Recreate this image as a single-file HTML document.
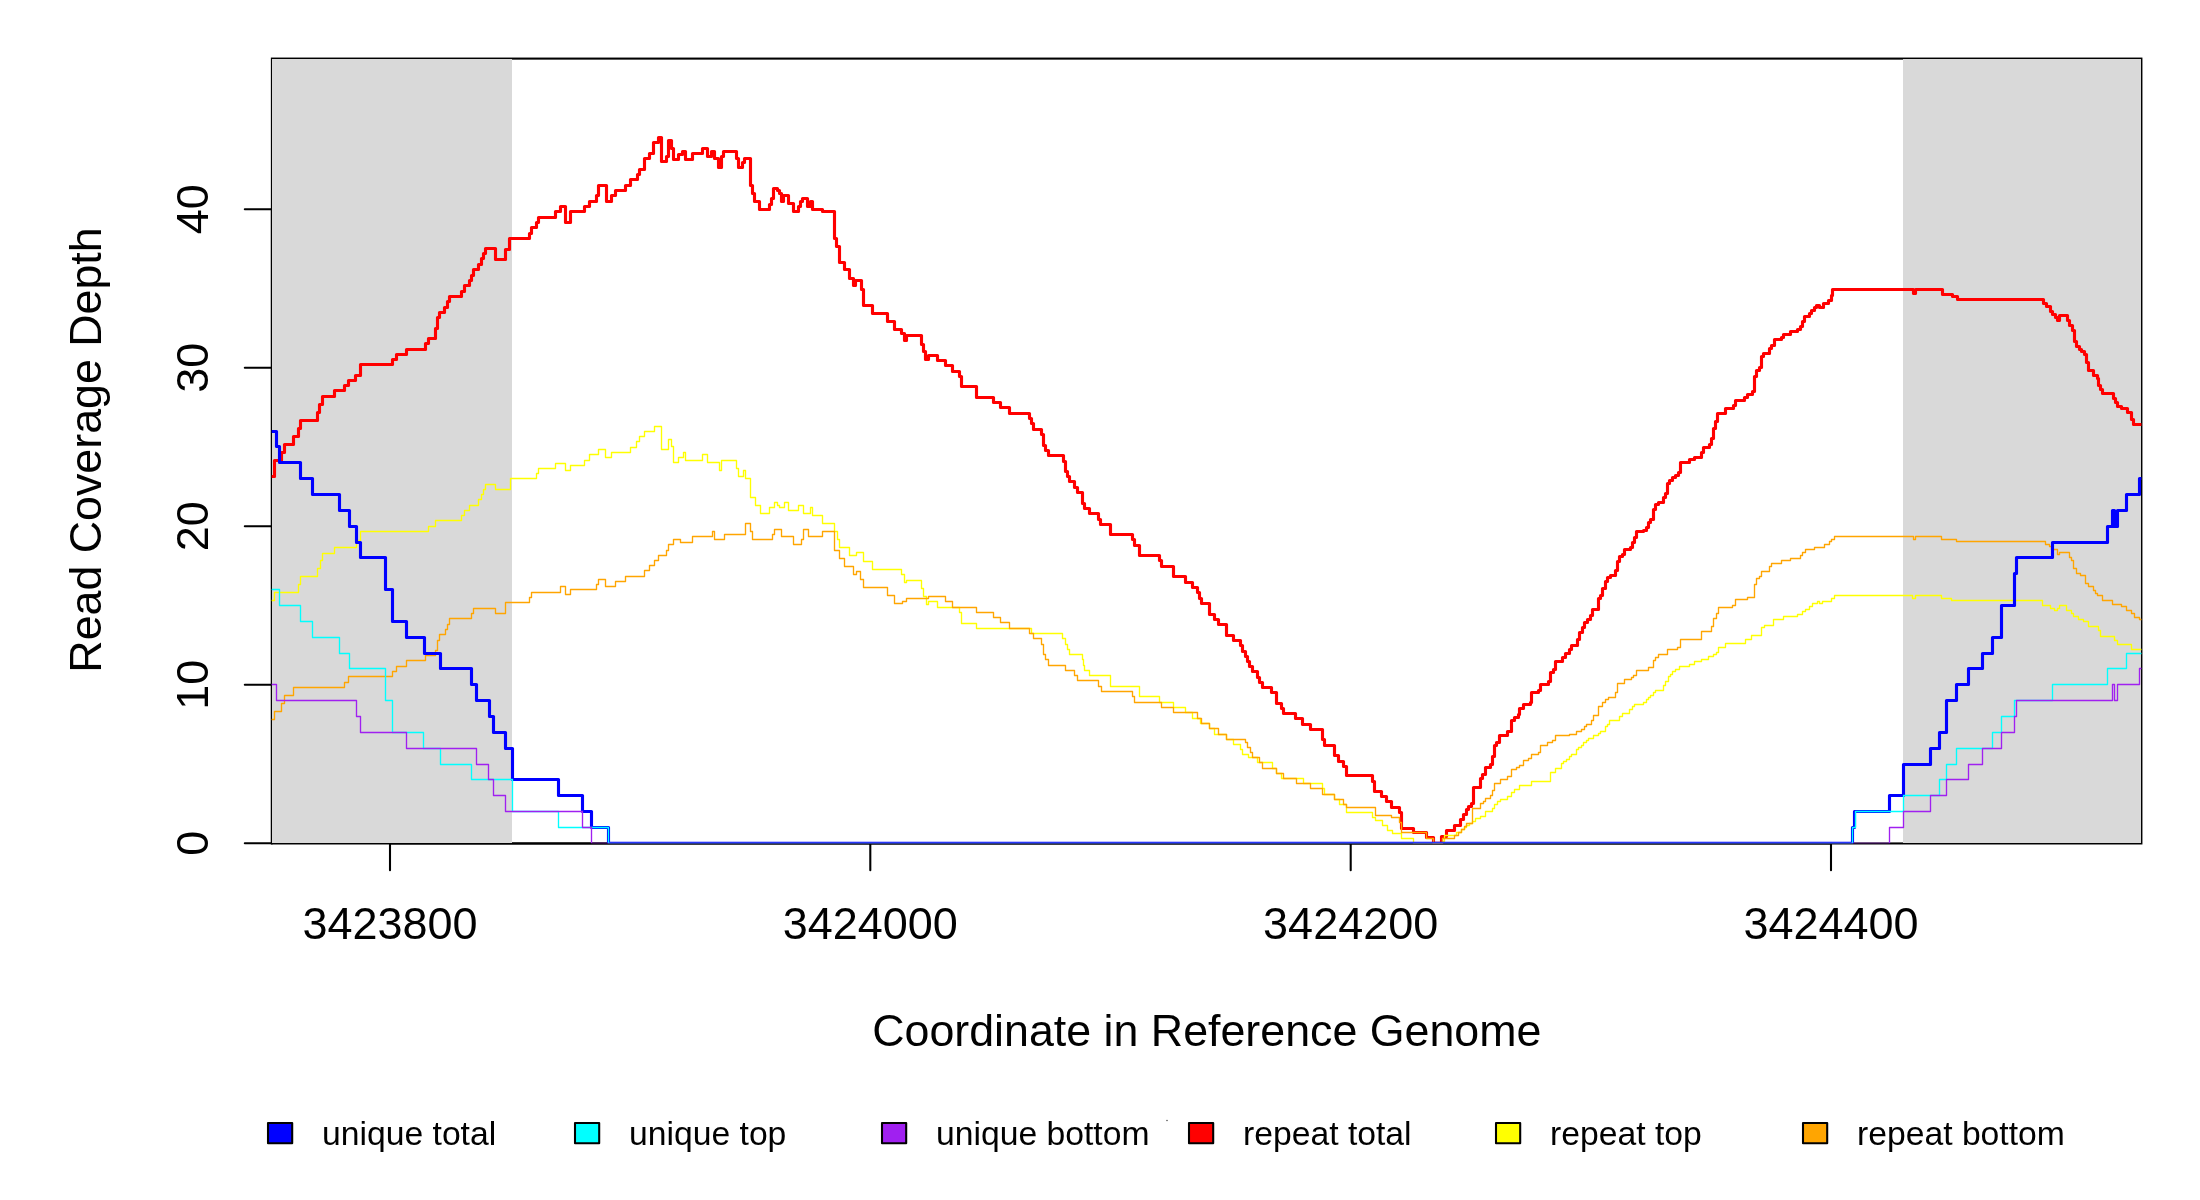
<!DOCTYPE html>
<html><head><meta charset="utf-8"><title>Read Coverage Depth</title>
<style>
html,body{margin:0;padding:0;background:#fff}
svg{display:block}
text{font-family:"Liberation Sans",sans-serif;fill:#000}
#t{opacity:.999}
.ax{font-size:45px}
.lg{font-size:33.7px}
.k{stroke:#000;stroke-width:2.08;fill:none;stroke-linecap:round}
</style></head><body>
<svg width="2200" height="1200" viewBox="0 0 2200 1200">
<rect width="2200" height="1200" fill="#fff"/>
<defs><clipPath id="c"><rect x="271.7" y="58.6" width="1869.7" height="784.7"/></clipPath></defs>

<rect class="k" x="271.9" y="58.6" width="1869.5" height="784.85"/>
<path class="k" d="M390 843.45H1831
M390 843.45V870.3
M870.3 843.45V870.3
M1350.7 843.45V870.3
M1831 843.45V870.3
"/>
<path class="k" d="M271.9 843.45V209.2
M271.9 843.3H244.8
M271.9 684.8H244.8
M271.9 526.2H244.8
M271.9 367.7H244.8
M271.9 209.2H244.8
"/>
<rect x="272" y="59" width="240" height="784" fill="#d9d9d9" shape-rendering="crispEdges"/>
<rect x="1903" y="59" width="238" height="784" fill="#d9d9d9" shape-rendering="crispEdges"/>
<g clip-path="url(#c)" fill="none" stroke-linejoin="round" stroke-linecap="round">
<path d="M271.5 476.5H274.5V460.5H281.5V452.5H284.5V444.5H293.5V436.5H298.5V428.5H300.5V420.5H317.5V412.5H319.5V404.5H322.5V396.5H334.5V390.5H344.5V385.5H348.5V380.5H355.5V375.5H360.5V364.5H392.5V359.5H396.5V354.5H406.5V349.5H425.5V343.5H428.5V338.5H435.5V328.5H437.5V317.5H439.5V312.5H444.5V307.5H447.5V301.5H449.5V296.5H461.5V291.5H464.5V285.5H469.5V280.5H471.5V275.5H473.5V269.5H478.5V264.5H481.5V258.5H483.5V253.5H485.5V248.5H495.5V259.5H505.5V249.5H509.5V238.5H529.5V233.5H531.5V227.5H536.5V222.5H538.5V217.5H555.5V211.5H560.5V206.5H565.5V222.5H570.5V211.5H584.5V206.5H589.5V201.5H596.5V195.5H598.5V185.5H606.5V201.5H611.5V195.5H615.5V190.5H625.5V185.5H630.5V179.5H637.5V174.5H639.5V169.5H644.5V158.5H649.5V153.5H653.5V142.5H658.5V137.5H661.5V161.5H666.5V156.5H668.5V140.5H671.5V148.5H673.5V159.5H678.5V154.5H682.5V151.5H685.5V159.5H692.5V153.5H702.5V148.5H707.5V156.5H711.5V151.5H714.5V158.5H718.5V167.5H721.5V156.5H723.5V151.5H736.5V158.5H738.5V167.5H742.5V162.5H744.5V158.5H750.5V185.5H752.5V193.5H754.5V201.5H759.5V209.5H769.5V204.5H771.5V198.5H773.5V188.5H777.5V190.5H779.5V193.5H781.5V201.5H783.5V195.5H788.5V203.5H793.5V211.5H798.5V206.5H800.5V201.5H802.5V198.5H807.5V206.5H810.5V201.5H812.5V209.5H822.5V211.5H834.5V238.5H836.5V246.5H839.5V262.5H844.5V269.5H849.5V278.5H853.5V285.5H855.5V280.5H861.5V289.5H863.5V305.5H872.5V313.5H887.5V321.5H894.5V329.5H901.5V333.5H904.5V340.5H906.5V335.5H921.5V344.5H923.5V351.5H925.5V359.5H928.5V355.5H937.5V360.5H945.5V365.5H952.5V371.5H959.5V376.5H961.5V386.5H976.5V397.5H993.5V402.5H1000.5V407.5H1009.5V413.5H1029.5V418.5H1031.5V423.5H1033.5V429.5H1041.5V434.5H1043.5V445.5H1045.5V450.5H1048.5V455.5H1063.5V461.5H1065.5V471.5H1067.5V476.5H1069.5V481.5H1074.5V487.5H1077.5V492.5H1082.5V503.5H1084.5V508.5H1089.5V513.5H1098.5V519.5H1100.5V524.5H1110.5V534.5H1132.5V539.5H1134.5V545.5H1139.5V555.5H1159.5V560.5H1161.5V566.5H1173.5V576.5H1185.5V582.5H1192.5V587.5H1197.5V592.5H1199.5V598.5H1201.5V603.5H1209.5V614.5H1214.5V619.5H1218.5V624.5H1226.5V635.5H1233.5V640.5H1240.5V645.5H1242.5V651.5H1245.5V656.5H1247.5V661.5H1249.5V666.5H1252.5V671.5H1257.5V677.5H1259.5V682.5H1262.5V687.5H1271.5V692.5H1276.5V703.5H1281.5V708.5H1283.5V713.5H1295.5V718.5H1302.5V724.5H1310.5V729.5H1322.5V739.5H1324.5V745.5H1334.5V755.5H1338.5V761.5H1343.5V766.5H1346.5V775.5H1372.5V781.5H1374.5V791.5H1381.5V796.5H1386.5V801.5H1391.5V807.5H1399.5V812.5H1401.5V828.5H1413.5V832.5H1426.5V837.5H1433.5V843.3H1441.5V836.5H1446.5V830.5H1454.5V825.5H1460.5V819.5H1463.5V814.5H1466.5V809.5H1468.5V806.5H1471.5V803.5H1473.5V787.5H1480.5V778.5H1482.5V774.5H1485.5V767.5H1490.5V764.5H1492.5V756.5H1494.5V745.5H1496.5V742.5H1499.5V735.5H1507.5V731.5H1511.5V720.5H1514.5V717.5H1518.5V714.5H1519.5V708.5H1523.5V704.5H1530.5V702.5H1531.5V692.5H1538.5V690.5H1540.5V684.5H1548.5V681.5H1550.5V672.5H1553.5V669.5H1555.5V661.5H1562.5V657.5H1565.5V653.5H1569.5V649.5H1571.5V645.5H1577.5V639.5H1579.5V632.5H1582.5V627.5H1584.5V622.5H1587.5V619.5H1590.5V615.5H1592.5V609.5H1598.5V598.5H1600.5V595.5H1602.5V588.5H1605.5V581.5H1607.5V577.5H1610.5V575.5H1615.5V570.5H1617.5V561.5H1619.5V556.5H1622.5V554.5H1624.5V549.5H1630.5V547.5H1632.5V542.5H1634.5V537.5H1636.5V531.5H1643.5V530.5H1646.5V527.5H1648.5V522.5H1650.5V519.5H1653.5V509.5H1655.5V504.5H1658.5V502.5H1663.5V497.5H1665.5V493.5H1667.5V483.5H1669.5V480.5H1672.5V477.5H1675.5V475.5H1678.5V472.5H1680.5V462.5H1689.5V459.5H1694.5V457.5H1701.5V452.5H1703.5V447.5H1709.5V444.5H1711.5V438.5H1713.5V428.5H1715.5V421.5H1717.5V413.5H1725.5V408.5H1733.5V405.5H1735.5V400.5H1744.5V397.5H1747.5V394.5H1752.5V391.5H1754.5V376.5H1756.5V370.5H1759.5V367.5H1761.5V356.5H1763.5V353.5H1769.5V348.5H1771.5V345.5H1774.5V339.5H1781.5V337.5H1783.5V334.5H1790.5V331.5H1797.5V329.5H1800.5V326.5H1802.5V321.5H1804.5V316.5H1809.5V313.5H1811.5V310.5H1814.5V307.5H1816.5V305.5H1819.5V307.5H1823.5V303.5H1828.5V300.5H1831.5V295.5H1832.5V289.5H1913.5V293.5H1915.5V289.5H1942.5V294.5H1952.5V296.5H1957.5V299.5H2043.5V303.5H2046.5V306.5H2050.5V311.5H2052.5V314.5H2055.5V317.5H2057.5V320.5H2059.5V315.5H2067.5V320.5H2069.5V325.5H2072.5V330.5H2074.5V341.5H2076.5V346.5H2079.5V349.5H2081.5V351.5H2084.5V354.5H2086.5V362.5H2088.5V370.5H2093.5V375.5H2097.5V378.5H2098.5V385.5H2100.5V389.5H2102.5V393.5H2113.5V398.5H2115.5V402.5H2117.5V406.5H2121.5V408.5H2127.5V412.5H2131.5V419.5H2133.5V424.5H2142.5" stroke="#ff0000" stroke-width="3.13"/>
<path d="M271.5 600.5H274.5V592.5H298.5V584.5H300.5V576.5H317.5V568.5H320.5V560.5H322.5V553.5H334.5V547.5H356.5V540.5H360.5V531.5H428.5V526.5H435.5V520.5H461.5V515.5H464.5V510.5H469.5V505.5H478.5V499.5H481.5V494.5H483.5V489.5H485.5V484.5H495.5V489.5H510.5V478.5H536.5V473.5H538.5V468.5H555.5V463.5H565.5V470.5H570.5V465.5H584.5V460.5H589.5V454.5H598.5V449.5H605.5V457.5H611.5V452.5H630.5V447.5H636.5V441.5H639.5V436.5H644.5V431.5H654.5V426.5H661.5V449.5H668.5V439.5H671.5V446.5H673.5V462.5H678.5V457.5H683.5V452.5H685.5V460.5H702.5V454.5H707.5V462.5H719.5V470.5H721.5V460.5H736.5V468.5H738.5V476.5H743.5V470.5H745.5V478.5H750.5V497.5H755.5V505.5H760.5V513.5H769.5V507.5H774.5V502.5H777.5V505.5H779.5V507.5H784.5V502.5H788.5V510.5H798.5V505.5H803.5V513.5H810.5V507.5H812.5V515.5H822.5V523.5H834.5V531.5H837.5V539.5H839.5V547.5H849.5V555.5H856.5V552.5H863.5V561.5H872.5V569.5H901.5V574.5H904.5V582.5H906.5V580.5H921.5V588.5H923.5V596.5H926.5V604.5H928.5V601.5H937.5V607.5H959.5V612.5H961.5V623.5H976.5V628.5H1031.5V633.5H1062.5V638.5H1065.5V644.5H1067.5V649.5H1069.5V654.5H1082.5V659.5H1083.5V665.5H1084.5V670.5H1089.5V675.5H1110.5V686.5H1139.5V696.5H1159.5V702.5H1173.5V707.5H1185.5V712.5H1192.5V718.5H1200.5V723.5H1209.5V728.5H1214.5V734.5H1226.5V739.5H1233.5V744.5H1240.5V749.5H1242.5V754.5H1248.5V757.5H1257.5V762.5H1272.5V768.5H1276.5V773.5H1281.5V778.5H1303.5V783.5H1322.5V788.5H1324.5V794.5H1334.5V799.5H1339.5V804.5H1346.5V812.5H1372.5V817.5H1375.5V820.5H1382.5V825.5H1387.5V830.5H1392.5V833.5H1401.5V838.5H1413.5V843.3H1442.5V841.5H1444.5V835.5H1456.5V832.5H1461.5V829.5H1464.5V827.5H1466.5V825.5H1469.5V823.5H1472.5V821.5H1475.5V818.5H1480.5V816.5H1485.5V811.5H1492.5V808.5H1494.5V804.5H1497.5V801.5H1500.5V799.5H1507.5V796.5H1511.5V792.5H1514.5V789.5H1519.5V785.5H1531.5V781.5H1550.5V772.5H1555.5V768.5H1561.5V763.5H1563.5V761.5H1566.5V759.5H1569.5V756.5H1571.5V754.5H1576.5V749.5H1578.5V747.5H1581.5V745.5H1583.5V742.5H1586.5V740.5H1588.5V738.5H1593.5V735.5H1598.5V733.5H1600.5V731.5H1605.5V726.5H1607.5V724.5H1609.5V720.5H1619.5V716.5H1622.5V713.5H1629.5V709.5H1632.5V706.5H1634.5V704.5H1643.5V702.5H1646.5V699.5H1648.5V697.5H1650.5V695.5H1653.5V692.5H1655.5V690.5H1663.5V685.5H1665.5V681.5H1668.5V676.5H1670.5V674.5H1672.5V671.5H1675.5V669.5H1679.5V666.5H1689.5V664.5H1694.5V661.5H1701.5V659.5H1708.5V656.5H1713.5V654.5H1716.5V652.5H1718.5V647.5H1725.5V643.5H1745.5V639.5H1751.5V635.5H1761.5V627.5H1764.5V625.5H1773.5V619.5H1783.5V616.5H1797.5V614.5H1802.5V611.5H1805.5V609.5H1809.5V606.5H1812.5V603.5H1817.5V601.5H1819.5V603.5H1822.5V601.5H1831.5V598.5H1834.5V595.5H1912.5V598.5H1915.5V595.5H1941.5V598.5H1951.5V600.5H2042.5V605.5H2050.5V608.5H2054.5V610.5H2057.5V608.5H2059.5V605.5H2066.5V610.5H2071.5V613.5H2073.5V616.5H2078.5V619.5H2083.5V621.5H2088.5V626.5H2098.5V630.5H2100.5V636.5H2114.5V640.5H2117.5V644.5H2131.5V649.5H2142.5" stroke="#ffff00" stroke-width="1.35"/>
<path d="M271.5 719.5H274.5V711.5H281.5V703.5H284.5V695.5H293.5V687.5H344.5V682.5H348.5V676.5H392.5V671.5H396.5V666.5H406.5V660.5H425.5V655.5H435.5V650.5H437.5V640.5H439.5V634.5H445.5V629.5H447.5V624.5H449.5V618.5H471.5V613.5H473.5V608.5H495.5V613.5H505.5V602.5H529.5V597.5H531.5V592.5H560.5V586.5H565.5V594.5H570.5V589.5H596.5V584.5H598.5V579.5H605.5V586.5H615.5V581.5H625.5V576.5H644.5V570.5H649.5V565.5H654.5V560.5H658.5V555.5H666.5V550.5H668.5V544.5H673.5V539.5H680.5V542.5H692.5V536.5H712.5V531.5H714.5V539.5H724.5V534.5H745.5V523.5H750.5V531.5H752.5V539.5H772.5V534.5H774.5V529.5H781.5V536.5H793.5V544.5H801.5V539.5H803.5V529.5H808.5V536.5H822.5V531.5H834.5V550.5H839.5V558.5H844.5V566.5H853.5V574.5H856.5V571.5H860.5V579.5H863.5V587.5H887.5V595.5H894.5V603.5H902.5V601.5H906.5V598.5H928.5V596.5H945.5V601.5H952.5V607.5H976.5V612.5H993.5V617.5H1000.5V622.5H1009.5V628.5H1029.5V633.5H1033.5V638.5H1041.5V644.5H1043.5V654.5H1045.5V659.5H1048.5V665.5H1065.5V670.5H1074.5V675.5H1077.5V680.5H1098.5V686.5H1101.5V691.5H1132.5V696.5H1134.5V702.5H1161.5V707.5H1173.5V712.5H1197.5V718.5H1201.5V723.5H1209.5V728.5H1218.5V734.5H1226.5V739.5H1245.5V742.5H1247.5V747.5H1250.5V752.5H1252.5V757.5H1259.5V762.5H1262.5V768.5H1276.5V773.5H1283.5V778.5H1296.5V783.5H1310.5V788.5H1322.5V794.5H1334.5V799.5H1343.5V804.5H1346.5V807.5H1375.5V815.5H1391.5V817.5H1399.5V822.5H1401.5V832.5H1426.5V838.5H1433.5V843.3H1442.5V841.5H1442.5V838.5H1454.5V835.5H1458.5V832.5H1461.5V829.5H1464.5V826.5H1466.5V823.5H1472.5V808.5H1480.5V803.5H1483.5V801.5H1485.5V798.5H1490.5V795.5H1492.5V790.5H1494.5V783.5H1500.5V779.5H1507.5V776.5H1511.5V769.5H1516.5V767.5H1519.5V765.5H1523.5V760.5H1528.5V758.5H1531.5V754.5H1538.5V752.5H1540.5V745.5H1547.5V742.5H1552.5V740.5H1555.5V735.5H1569.5V734.5H1576.5V731.5H1581.5V729.5H1584.5V726.5H1586.5V724.5H1591.5V720.5H1593.5V715.5H1598.5V706.5H1602.5V702.5H1605.5V699.5H1608.5V697.5H1615.5V692.5H1617.5V683.5H1624.5V679.5H1631.5V677.5H1633.5V675.5H1636.5V670.5H1648.5V667.5H1653.5V660.5H1655.5V657.5H1658.5V654.5H1667.5V649.5H1677.5V647.5H1680.5V639.5H1701.5V631.5H1711.5V626.5H1713.5V618.5H1716.5V613.5H1718.5V607.5H1732.5V605.5H1735.5V599.5H1747.5V597.5H1754.5V584.5H1756.5V578.5H1759.5V576.5H1761.5V571.5H1769.5V566.5H1771.5V563.5H1781.5V560.5H1790.5V558.5H1800.5V555.5H1802.5V552.5H1805.5V549.5H1814.5V547.5H1824.5V544.5H1829.5V541.5H1831.5V539.5H1834.5V536.5H1913.5V539.5H1915.5V536.5H1941.5V539.5H1956.5V541.5H2045.5V544.5H2049.5V546.5H2051.5V549.5H2057.5V554.5H2059.5V552.5H2069.5V557.5H2071.5V560.5H2073.5V568.5H2076.5V573.5H2080.5V575.5H2085.5V583.5H2088.5V586.5H2093.5V590.5H2095.5V593.5H2097.5V595.5H2102.5V600.5H2112.5V604.5H2121.5V606.5H2126.5V610.5H2131.5V613.5H2134.5V617.5H2139.5V619.5H2142.5" stroke="#ffa500" stroke-width="1.35"/>
<path d="M271.5 431.5H276.5V446.5H279.5V462.5H300.5V478.5H312.5V494.5H339.5V510.5H349.5V526.5H356.5V542.5H360.5V557.5H385.5V589.5H392.5V621.5H406.5V637.5H424.5V653.5H440.5V668.5H471.5V684.5H476.5V700.5H489.5V716.5H493.5V732.5H505.5V748.5H512.5V779.5H558.5V795.5H582.5V811.5H591.5V827.5H608.5V843.3H1852.5V827.5H1854.5V811.5H1889.5V795.5H1903.5V764.5H1930.5V748.5H1939.5V732.5H1946.5V700.5H1956.5V684.5H1968.5V668.5H1982.5V653.5H1992.5V637.5H2001.5V605.5H2014.5V573.5H2016.5V557.5H2052.5V542.5H2107.5V526.5H2112.5V510.5H2114.5V526.5H2117.5V510.5H2126.5V494.5H2139.5V478.5H2142.5" stroke="#0000ff" stroke-width="3.13"/>
<path d="M271.5 589.5H279.5V605.5H300.5V621.5H312.5V637.5H339.5V653.5H349.5V668.5H385.5V700.5H392.5V732.5H423.5V748.5H440.5V764.5H471.5V779.5H512.5V811.5H558.5V827.5H608.5V843.3H1852.5V827.5H1855.5V811.5H1903.5V795.5H1939.5V779.5H1946.5V764.5H1956.5V748.5H1992.5V732.5H2001.5V716.5H2014.5V700.5H2052.5V684.5H2107.5V668.5H2126.5V653.5H2142.5" stroke="#00ffff" stroke-width="1.35"/>
<path d="M271.5 684.5H276.5V700.5H356.5V716.5H360.5V732.5H406.5V748.5H476.5V764.5H488.5V779.5H493.5V795.5H505.5V811.5H582.5V827.5H591.5V843.3H1889.5V827.5H1903.5V811.5H1930.5V795.5H1946.5V779.5H1968.5V764.5H1982.5V748.5H2001.5V732.5H2014.5V716.5H2016.5V700.5H2112.5V684.5H2114.5V700.5H2117.5V684.5H2139.5V668.5H2142.5" stroke="#a020f0" stroke-width="1.35"/>
</g>
<g id="t">
<text class="ax" x="390" y="939" text-anchor="middle">3423800</text>
<text class="ax" x="870.3" y="939" text-anchor="middle">3424000</text>
<text class="ax" x="1350.7" y="939" text-anchor="middle">3424200</text>
<text class="ax" x="1831" y="939" text-anchor="middle">3424400</text>
<text class="ax" transform="translate(208 843.3) rotate(-90)" text-anchor="middle">0</text>
<text class="ax" transform="translate(208 684.8) rotate(-90)" text-anchor="middle">10</text>
<text class="ax" transform="translate(208 526.2) rotate(-90)" text-anchor="middle">20</text>
<text class="ax" transform="translate(208 367.7) rotate(-90)" text-anchor="middle">30</text>
<text class="ax" transform="translate(208 209.2) rotate(-90)" text-anchor="middle">40</text>
<text class="ax" style="font-size:44.75px" x="1206.8" y="1046" text-anchor="middle">Coordinate in Reference Genome</text>
<text class="ax" style="font-size:44.75px" transform="translate(101 450) rotate(-90)" text-anchor="middle">Read Coverage Depth</text>
<rect x="268" y="1123" width="24.2" height="20.2" fill="#0000ff" stroke="#000" stroke-width="2.08" stroke-linejoin="round"/>
<text class="lg" x="322" y="1145">unique total</text>
<rect x="575" y="1123" width="24.2" height="20.2" fill="#00ffff" stroke="#000" stroke-width="2.08" stroke-linejoin="round"/>
<text class="lg" x="629" y="1145">unique top</text>
<rect x="882" y="1123" width="24.2" height="20.2" fill="#a020f0" stroke="#000" stroke-width="2.08" stroke-linejoin="round"/>
<text class="lg" x="936" y="1145">unique bottom</text>
<rect x="1189" y="1123" width="24.2" height="20.2" fill="#ff0000" stroke="#000" stroke-width="2.08" stroke-linejoin="round"/>
<text class="lg" x="1243" y="1145">repeat total</text>
<rect x="1496" y="1123" width="24.2" height="20.2" fill="#ffff00" stroke="#000" stroke-width="2.08" stroke-linejoin="round"/>
<text class="lg" x="1550" y="1145">repeat top</text>
<rect x="1803" y="1123" width="24.2" height="20.2" fill="#ffa500" stroke="#000" stroke-width="2.08" stroke-linejoin="round"/>
<text class="lg" x="1857" y="1145">repeat bottom</text>
</g>
<circle cx="1167" cy="1120.5" r="0.8" fill="#555"/>
</svg></body></html>
